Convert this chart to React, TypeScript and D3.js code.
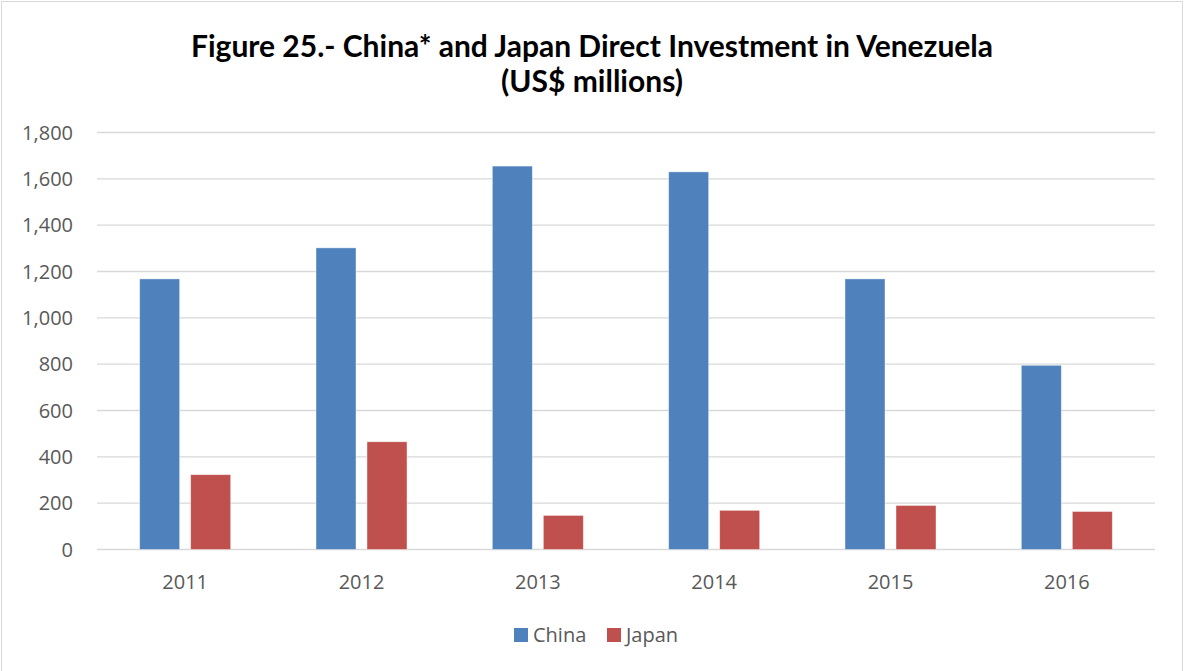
import React, { useEffect } from "react";
import * as d3 from "d3";

const categories = ["2011", "2012", "2013", "2014", "2015", "2016"];
const chinaValues = [1168, 1302, 1655, 1630, 1168, 795];
const japanValues = [323, 465, 147, 169, 190, 164];
const yTicks = [0, 200, 400, 600, 800, 1000, 1200, 1400, 1600, 1800];
const seriesNames = ["China", "Japan"];
const seriesColors = ["#4F81BD", "#C0504D"];

const W = 1184;
const H = 671;
const plot = { left: 97, right: 1155, top: 132.5, bottom: 549.5 };
const TITLE_FONT = "Lato, 'Open Sans', sans-serif";
const FONT = "'Open Sans', Lato, sans-serif";

export default function App() {
  useEffect(() => {
    document.body.style.margin = "0";
  }, []);

  const x = d3.scaleBand<string>().domain(categories).range([plot.left, plot.right]);
  const y = d3.scaleLinear().domain([0, 1800]).range([plot.bottom, plot.top]);
  const inner = d3.scaleBand<string>().domain(seriesNames).range([0, 91]).paddingInner(0.216);
  const groupOffset = (x.bandwidth() - 91) / 2;
  const fmt = d3.format(",");
  const series = [chinaValues, japanValues];

  return (
    <svg width={W} height={H} style={{ display: "block", background: "#fff" }}>
      <rect x={1.5} y={1.5} width={1181} height={676} fill="#fff" stroke="#d9d9d9" strokeWidth={1} />
      <text x={592} y={57} textAnchor="middle" fontFamily={TITLE_FONT} fontWeight="bold" fontSize={30} fill="#000">
        Figure 25.- China* and Japan Direct Investment in Venezuela
      </text>
      <text x={592} y={92} textAnchor="middle" fontFamily={TITLE_FONT} fontWeight="bold" fontSize={30} fill="#000">
        (US$ millions)
      </text>
      {yTicks.map((t) => (
        <g key={t}>
          <line x1={plot.left} x2={plot.right} y1={y(t)} y2={y(t)} stroke="#d9d9d9" strokeWidth={1.3} />
          <text x={73} y={y(t) + 7} textAnchor="end" fontFamily={FONT} fontSize={20} fill="#595959">
            {fmt(t)}
          </text>
        </g>
      ))}
      {categories.map((c, i) => (
        <g key={c}>
          {series.map((vals, s) => (
            <rect
              key={s}
              x={(x(c) as number) + groupOffset + (inner(seriesNames[s]) as number)}
              y={y(vals[i])}
              width={inner.bandwidth()}
              height={plot.bottom - y(vals[i])}
              fill={seriesColors[s]}
              stroke="#fff"
              strokeOpacity={0.5}
              strokeWidth={0.8}
            />
          ))}
          <text x={(x(c) as number) + x.bandwidth() / 2} y={589} textAnchor="middle" fontFamily={FONT} fontSize={20} fill="#595959">
            {c}
          </text>
        </g>
      ))}
      {seriesNames.map((n, s) => {
        const lx = [514, 607][s];
        return (
          <g key={n}>
            <rect x={lx} y={628} width={14} height={14} fill={seriesColors[s]} />
            <text x={lx + 19} y={642} fontFamily={FONT} fontSize={20} fill="#595959">
              {n}
            </text>
          </g>
        );
      })}
    </svg>
  );
}
